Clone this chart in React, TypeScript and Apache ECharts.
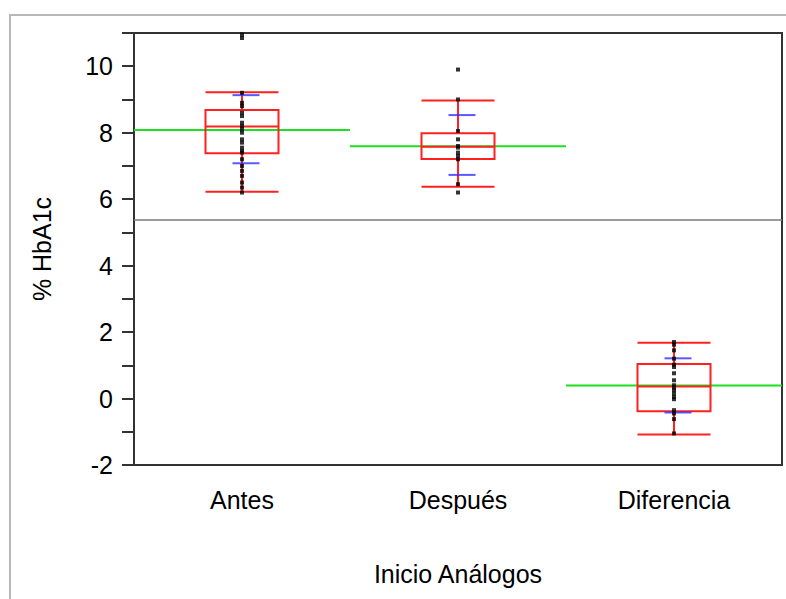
import React, { useEffect, useRef } from "react";
import * as echarts from "echarts";

const categories = ["Antes", "Después", "Diferencia"];
// [min, Q1, median, Q3, max]
const boxStats = [
  [6.22, 7.38, 8.19, 8.68, 9.22],
  [6.37, 7.21, 7.58, 7.98, 8.97],
  [-1.08, -0.38, 0.36, 1.04, 1.68],
];
const means = [8.08, 7.59, 0.39];
const sdUpper = [9.13, 8.53, 1.21];
const sdLower = [7.08, 6.73, -0.42];
const grandMean = 5.37;
const antesPoints = [10.95, 10.85, 9.2, 8.9, 8.8, 8.6, 8.5, 8.3, 8.2, 8.1, 8.0, 7.8, 7.7, 7.55, 7.45, 7.4, 7.2, 7.0, 6.85, 6.7, 6.5, 6.35, 6.2];
const despuesPoints = [9.9, 9.0, 8.05, 7.8, 7.6, 7.55, 7.4, 7.3, 7.2, 6.45, 6.2];
const diferenciaPoints = [1.7, 1.62, 1.45, 1.2, 1.02, 0.95, 0.76, 0.55, 0.4, 0.33, 0.25, 0.15, 0.05, -0.02, -0.35, -0.45, -0.62, -1.05];
const yMin = -2;
const yMax = 11;

const FONT = "'Liberation Sans', Arial, sans-serif";
const TEXT = "#000";

export default function App() {
  const ref = useRef<HTMLDivElement>(null);
  useEffect(() => {
    if (!ref.current) return;
    const chart = echarts.init(ref.current, undefined, { renderer: "svg" });
    const pointGroups = [antesPoints, despuesPoints, diferenciaPoints];
    const points: number[][] = [];
    pointGroups.forEach((g, i) => g.forEach((v) => points.push([i, v])));
    const sdData: number[][] = [];
    categories.forEach((_, i) => {
      sdData.push([i, sdUpper[i]]);
      sdData.push([i, sdLower[i]]);
    });
    chart.setOption({
      animation: false,
      backgroundColor: "#fff",
      graphic: [
        {
          type: "rect",
          shape: { x: 10, y: 15, width: 900, height: 700 },
          style: { fill: "none", stroke: "#b8b8b8", lineWidth: 2 },
          z: -10,
        },
      ],
      grid: {
        left: 134,
        right: 4,
        top: 33,
        bottom: 134,
        show: true,
        borderColor: "#333",
        borderWidth: 2,
        outerBoundsMode: "none",
      },
      xAxis: {
        type: "category",
        data: categories,
        name: "Inicio Análogos",
        nameLocation: "middle",
        nameGap: 96,
        nameTextStyle: { fontFamily: FONT, fontSize: 25, color: TEXT },
        axisLine: { onZero: false, lineStyle: { color: "#333", width: 2 } },
        axisTick: { length: 12, lineStyle: { color: "#333", width: 2 }, interval: (i: number) => i > 0 },
        axisLabel: { fontFamily: FONT, fontSize: 25, color: TEXT, margin: 22 },
        splitLine: { show: false },
      },
      yAxis: {
        type: "value",
        min: yMin,
        max: yMax,
        interval: 1,
        name: "% HbA1c",
        nameLocation: "middle",
        nameGap: 80,
        nameRotate: 90,
        nameTextStyle: { fontFamily: FONT, fontSize: 25, color: TEXT },
        axisLine: { show: true, onZero: false, lineStyle: { color: "#333", width: 2 } },
        axisTick: { show: true, length: 12, lineStyle: { color: "#333", width: 2 } },
        axisLabel: {
          fontFamily: FONT,
          fontSize: 25,
          color: TEXT,
          margin: 21,
          formatter: (v: number) => (Math.round(v) % 2 === 0 && v < yMax ? String(v) : ""),
        },
        splitLine: { show: false },
      },
      series: [
        {
          type: "custom",
          name: "Media",
          z: 3,
          data: means.map((m, i) => [i, m]),
          renderItem: (params: any, api: any) => {
            const c = api.coord([api.value(0), api.value(1)]);
            const w = api.size([1, 0])[0];
            return {
              type: "line",
              shape: { x1: c[0] - w / 2, y1: c[1], x2: c[0] + w / 2, y2: c[1] },
              style: { stroke: "#1ee01e", lineWidth: 2 },
            };
          },
          markLine: {
            silent: true,
            symbol: "none",
            label: { show: false },
            lineStyle: { color: "#7a7a7a", width: 1.5, type: "solid" },
            data: [{ yAxis: grandMean }],
            z: 1,
          },
        },
        {
          type: "boxplot",
          name: "Caja",
          z: 4,
          boxWidth: [73, 73],
          data: boxStats,
          itemStyle: { color: "transparent", borderColor: "#ff2020", borderWidth: 2 },
        },
        {
          type: "scatter",
          name: "DE",
          z: 5,
          symbol: "rect",
          symbolSize: [27, 2],
          symbolOffset: [4, 0],
          itemStyle: { color: "#2f2fff" },
          data: sdData,
        },
        {
          type: "scatter",
          name: "Puntos",
          z: 6,
          symbol: "rect",
          symbolSize: 4,
          itemStyle: { color: "#000" },
          data: points,
        },
      ],
    });
    return () => chart.dispose();
  }, []);
  return (
    <div
      ref={ref}
      style={{ position: "absolute", left: 0, top: 0, width: 786, height: 599 }}
    />
  );
}
